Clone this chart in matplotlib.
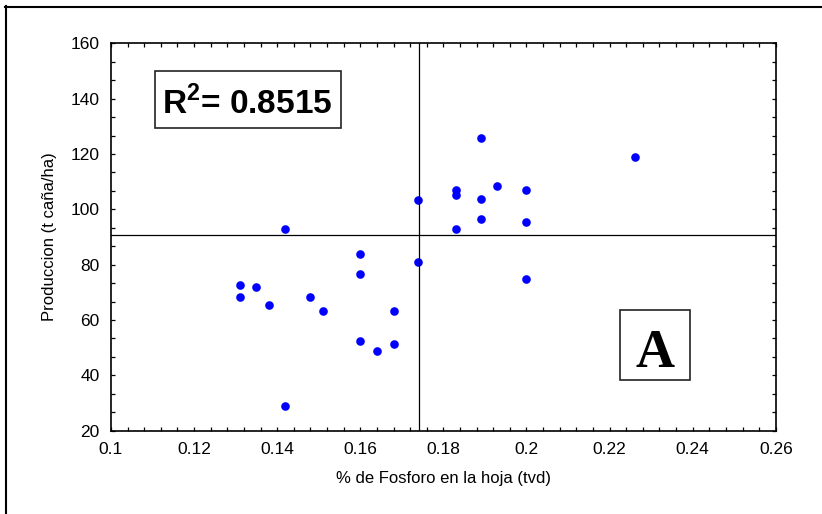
import matplotlib
matplotlib.use("Agg")
import matplotlib.pyplot as plt
from matplotlib.patches import Rectangle
from matplotlib.lines import Line2D
from matplotlib.ticker import MultipleLocator
import numpy as np

# % fosforo en la hoja vs produccion
fosforo = [0.142, 0.142, 0.131, 0.131, 0.135, 0.138, 0.148, 0.151, 0.160, 0.160,
           0.160, 0.164, 0.168, 0.168, 0.174, 0.174, 0.189, 0.226, 0.183, 0.183,
           0.193, 0.200, 0.189, 0.189, 0.200, 0.183, 0.200]
produccion = [92.9, 29.0, 72.7, 68.4, 72.0, 65.3, 68.4, 63.3, 84.0, 76.7,
              52.4, 48.7, 63.3, 51.3, 81.0, 103.3, 125.7, 118.9, 106.9, 105.3,
              108.5, 106.9, 103.7, 96.5, 95.5, 92.9, 74.7]
media_x = 0.1741
media_y = 90.7
r2_text = r"R$^{\mathbf{2}}$= 0.8515"

plt.rcParams['font.family'] = ['Liberation Sans', 'DejaVu Sans']
plt.rcParams['mathtext.fontset'] = 'custom'
plt.rcParams['mathtext.rm'] = 'Liberation Sans'
plt.rcParams['mathtext.bf'] = 'Liberation Sans:bold'

fig = plt.figure(figsize=(8.22, 5.14), dpi=100)
ax = fig.add_axes([0.135, 0.1621, 0.8088, 0.7537])

ax.plot(fosforo, produccion, 'o', color='#0000ff', markersize=6.2, markeredgewidth=0)
ax.axvline(media_x, color='black', lw=0.9)
ax.axhline(media_y, color='black', lw=0.9)

ax.set_xlim(0.1, 0.26)
ax.set_ylim(20, 160)
ax.xaxis.set_major_locator(MultipleLocator(0.02))
ax.xaxis.set_minor_locator(MultipleLocator(0.004))
ax.yaxis.set_major_locator(MultipleLocator(20))
ax.yaxis.set_minor_locator(MultipleLocator(20 / 3))
ax.set_xticks(np.arange(0.1, 0.261, 0.02))
ax.set_xticklabels(["0.1", "0.12", "0.14", "0.16", "0.18", "0.2", "0.22", "0.24", "0.26"])
ax.tick_params(which='both', direction='in', top=True, right=True, length=3, width=0.9,
               labelsize=12.5, pad=8)
for s in ax.spines.values():
    s.set_linewidth(1.2)

ax.set_xlabel("% de Fosforo en la hoja (tvd)", fontsize=12, labelpad=10)
ax.set_ylabel("Produccion (t caña/ha)", fontsize=12, labelpad=10)

# cuadro R2
ax.add_patch(Rectangle((0.0662, 0.7806), 0.2794, 0.1471, transform=ax.transAxes,
                       fill=False, edgecolor='#222222', lw=1.2, zorder=5))
ax.text(0.2042, 0.8175, r2_text, transform=ax.transAxes, ha='center', va='baseline',
        fontsize=24, fontweight='bold', zorder=6)

# cuadro A
ax.add_patch(Rectangle((0.7653, 0.1309), 0.1058, 0.1807, transform=ax.transAxes,
                       fill=False, edgecolor='#222222', lw=1.2, zorder=5))
ax.text(0.818, 0.1652, "A", transform=ax.transAxes, ha='center', va='baseline',
        fontsize=39, fontweight='bold', family='Liberation Serif', zorder=6)

# marco exterior (solo arriba e izquierda)
fig.add_artist(Line2D([5 / 822, 1], [1 - 6.5 / 514] * 2, transform=fig.transFigure,
                      color='black', lw=1.5))
fig.add_artist(Line2D([6 / 822] * 2, [0, 1 - 6 / 514], transform=fig.transFigure,
                      color='black', lw=1.5))

fig.savefig("out.png", dpi=100)
